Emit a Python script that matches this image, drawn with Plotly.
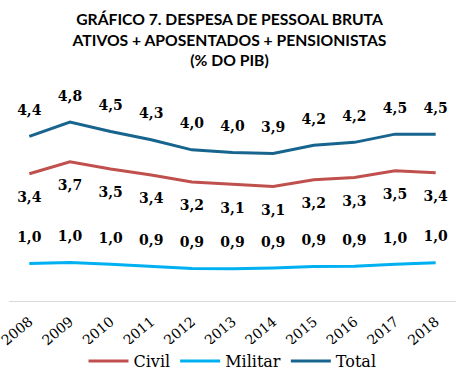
import plotly.graph_objects as go

years = ["2008", "2009", "2010", "2011", "2012", "2013", "2014", "2015", "2016", "2017", "2018"]
civil = [3.40, 3.72, 3.53, 3.37, 3.18, 3.11, 3.06, 3.24, 3.30, 3.48, 3.43]
militar = [1.00, 1.03, 0.98, 0.93, 0.87, 0.86, 0.88, 0.92, 0.93, 0.98, 1.02]
total = [4.40, 4.78, 4.53, 4.31, 4.04, 3.97, 3.94, 4.16, 4.24, 4.46, 4.46]

series = [
    ("Civil", civil, "#C0504D", "bottom center"),
    ("Militar", militar, "#00B0F0", "top center"),
    ("Total", total, "#17648E", "top center"),
]

fig = go.Figure()
for name, vals, color, pos in series:
    fig.add_trace(go.Scatter(x=years, y=vals, name=name, mode="lines",
                             line=dict(color=color, width=3)))
for name, vals, color, pos in series:
    fig.add_trace(go.Scatter(x=years, y=vals, mode="markers+text", showlegend=False,
                             hoverinfo="skip",
                             marker=dict(size=27, opacity=0),
                             text=["<b>" + f"{v:.1f}".replace(".", ",") + "</b>" for v in vals],
                             textposition=pos, cliponaxis=False,
                             textfont=dict(family="DejaVu Serif", size=14, color="#000000")))

fig.update_layout(
    width=459, height=391,
    margin=dict(l=9, r=3, t=84, b=90, autoexpand=False),
    paper_bgcolor="white", plot_bgcolor="white",
    title=dict(text="<b>GRÁFICO 7. DESPESA DE PESSOAL BRUTA<br>ATIVOS + APOSENTADOS + PENSIONISTAS<br>(% DO PIB)</b>",
               x=0.5, xanchor="center", y=1 - 25.4 / 391, yanchor="middle", yref="container",
               font=dict(family="Lato", size=15.7, color="#000000")),
    showlegend=True,
    legend=dict(orientation="h", x=0.5, xanchor="center", y=1 - 361 / 391, yanchor="middle",
                yref="container",
                font=dict(family="DejaVu Serif", size=16, color="#000000"),
                itemwidth=40, tracegroupgap=0),
    xaxis=dict(type="category", range=[-0.5, 10.5], showgrid=False, showline=True,
               linecolor="#D9D9D9", linewidth=1, ticks="", tickangle=-40,
               tickfont=dict(family="DejaVu Serif", size=14, color="#000000"),
               ticklabelstandoff=6),
    yaxis=dict(range=[0, 5.8], showticklabels=False, showline=False, showgrid=False,
               zeroline=False, ticks=""),
)

fig.write_html("out.html", config={"displayModeBar": False},
               post_script="document.body.style.margin='0';")
